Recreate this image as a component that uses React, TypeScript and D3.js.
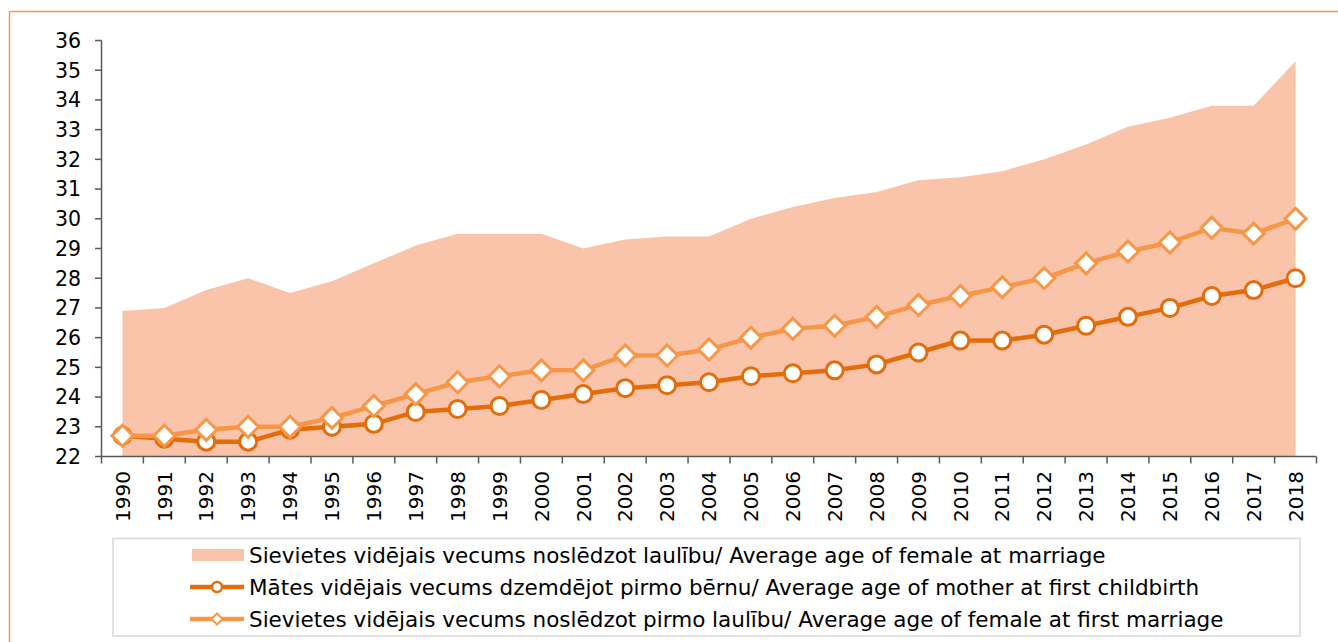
import React from "react";
import * as d3 from "d3";

const years = ["1990","1991","1992","1993","1994","1995","1996","1997","1998","1999","2000","2001","2002","2003","2004","2005","2006","2007","2008","2009","2010","2011","2012","2013","2014","2015","2016","2017","2018"];
const marriageAge = [26.9,27.0,27.6,28.0,27.5,27.9,28.5,29.1,29.5,29.5,29.5,29.0,29.3,29.4,29.4,30.0,30.4,30.7,30.9,31.3,31.4,31.6,32.0,32.5,33.1,33.4,33.8,33.8,35.3];
const motherAge = [22.7,22.6,22.5,22.5,22.9,23.0,23.1,23.5,23.6,23.7,23.9,24.1,24.3,24.4,24.5,24.7,24.8,24.9,25.1,25.5,25.9,25.9,26.1,26.4,26.7,27.0,27.4,27.6,28.0];
const firstMarriageAge = [22.7,22.7,22.9,23.0,23.0,23.3,23.7,24.1,24.5,24.7,24.9,24.9,25.4,25.4,25.6,26.0,26.3,26.4,26.7,27.1,27.4,27.7,28.0,28.5,28.9,29.2,29.7,29.5,30.0];
const yTicks = [22,23,24,25,26,27,28,29,30,31,32,33,34,35,36];
const legendLabels = [
  "Sievietes vidējais vecums noslēdzot laulību/ Average age of female at marriage",
  "Mātes vidējais vecums dzemdējot pirmo bērnu/ Average age of mother at first childbirth",
  "Sievietes vidējais vecums noslēdzot pirmo laulību/ Average age of female at first marriage",
];

const W = 1338, H = 642;
const AREA = "#F9C4AA";
const DARK = "#E46C0A";
const LIGHT = "#F79646";
const AXIS = "#595959";
const FONT = "DejaVu Sans, Verdana, sans-serif";

export default function App() {
  const x = d3.scaleBand<string>().domain(years).range([101.5, 1316.5]);
  const y = d3.scaleLinear().domain([22, 36]).range([456.5, 40.5]);
  const cx = (i: number) => (x(years[i]) as number) + x.bandwidth() / 2;

  const area = d3.area<number>().x((_, i) => cx(i)).y0(y(22)).y1((d) => y(d));
  const line = d3.line<number>().x((_, i) => cx(i)).y((d) => y(d));
  const diamond = (r: number) => `M0,${-r}L${r},0L0,${r}L${-r},0Z`;

  return (
    <svg width={W} height={H} style={{ position: "absolute", left: 0, top: 0, display: "block" }} fontFamily={FONT}>
      <rect x={0} y={0} width={W} height={H} fill="#fff" />
      <line x1={9.5} y1={11.5} x2={W} y2={11.5} stroke={LIGHT} strokeWidth={1.5} />
      <line x1={9.5} y1={11.5} x2={9.5} y2={H} stroke={LIGHT} strokeWidth={1.5} />

      <path d={area(marriageAge) || ""} fill={AREA} />

      {/* y axis */}
      <line x1={101.5} y1={y(36)} x2={101.5} y2={y(22)} stroke={AXIS} strokeWidth={1.5} />
      {yTicks.map((t) => (
        <g key={t}>
          <line x1={95} x2={101.5} y1={y(t)} y2={y(t)} stroke={AXIS} strokeWidth={1.5} />
          <text x={81} y={y(t)} dy="0.36em" textAnchor="end" fontSize={20.5} fill="#000">{t}</text>
        </g>
      ))}
      {/* x axis */}
      <line x1={101.5} x2={1316.5} y1={y(22)} y2={y(22)} stroke={AXIS} strokeWidth={1.5} />
      {years.map((yr) => (
        <line key={"t" + yr} x1={x(yr) as number} x2={x(yr) as number} y1={y(22)} y2={y(22) + 7} stroke={AXIS} strokeWidth={1.5} />
      ))}
      <line x1={1316.5} x2={1316.5} y1={y(22)} y2={y(22) + 7} stroke={AXIS} strokeWidth={1.5} />
      {years.map((yr, i) => (
        <text key={"l" + yr} transform={`translate(${cx(i)},${471}) rotate(-90)`} textAnchor="end" dy="0.36em" fontSize={20} fill="#000">{yr}</text>
      ))}

      {/* lines */}
      <path d={line(motherAge) || ""} fill="none" stroke={DARK} strokeWidth={4.5} />
      <path d={line(firstMarriageAge) || ""} fill="none" stroke={LIGHT} strokeWidth={4.5} />
      {motherAge.map((v, i) => (
        <circle key={"c" + i} cx={cx(i)} cy={y(v)} r={8.5} fill="#fff" stroke={DARK} strokeWidth={3} />
      ))}
      {firstMarriageAge.map((v, i) => (
        <path key={"d" + i} d={diamond(10.5)} transform={`translate(${cx(i)},${y(v)})`} fill="#fff" stroke={LIGHT} strokeWidth={3} />
      ))}

      {/* legend */}
      <rect x={113} y={538.5} width={1187} height={97.5} fill="#fff" stroke="#D9D9D9" strokeWidth={1.5} />
      <rect x={192} y={549} width={52} height={12} fill={AREA} />
      <line x1={190} x2={244} y1={587} y2={587} stroke={DARK} strokeWidth={4.5} />
      <circle cx={217} cy={587} r={5} fill="#fff" stroke={DARK} strokeWidth={2.5} />
      <line x1={190} x2={244} y1={619} y2={619} stroke={LIGHT} strokeWidth={4.5} />
      <path d={diamond(5.5)} transform="translate(217,619)" fill="#fff" stroke={LIGHT} strokeWidth={2} />
      {legendLabels.map((l, i) => (
        <text key={l} x={249} y={555 + i * 32} dy="0.36em" fontSize={21.5} fill="#000">{l}</text>
      ))}
    </svg>
  );
}
